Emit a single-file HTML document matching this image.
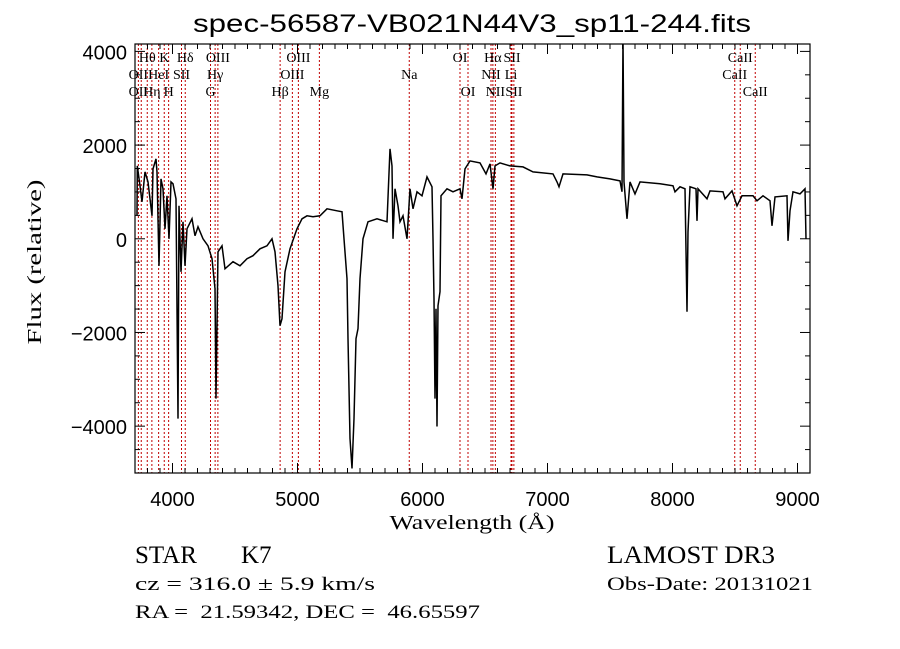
<!DOCTYPE html>
<html><head><meta charset="utf-8"><style>
html,body{margin:0;padding:0;background:#fff;}
svg{display:block;}
text{fill:#000;white-space:pre;}
</style></head><body>
<svg id="chart" width="900" height="649" viewBox="0 0 900 649" xmlns="http://www.w3.org/2000/svg">
<rect x="0" y="0" width="900" height="649" fill="#fff"/>
<defs><clipPath id="pc"><rect x="135" y="44" width="675" height="429"/></clipPath></defs>
<text x="472" y="32" text-anchor="middle" font-family="Liberation Sans, sans-serif" font-size="25" textLength="558" lengthAdjust="spacingAndGlyphs">spec-56587-VB021N44V3_sp11-244.fits</text>
<g id="lines" clip-path="url(#pc)"></g>
<g id="labels"></g>
<g id="spec" clip-path="url(#pc)"></g>
<rect x="135" y="44" width="675" height="429" fill="none" stroke="#000" stroke-width="1.2"/>
<g id="ticks"></g>
<text x="472" y="529" text-anchor="middle" font-family="Liberation Serif, serif" font-size="20" textLength="165" lengthAdjust="spacingAndGlyphs">Wavelength (Å)</text>
<text transform="translate(41,262) rotate(-90)" text-anchor="middle" font-family="Liberation Serif, serif" font-size="20" textLength="165" lengthAdjust="spacingAndGlyphs">Flux (relative)</text>
<text x="135" y="563" font-family="Liberation Serif, serif" font-size="25">STAR<tspan x="241">K7</tspan></text>
<text x="607" y="563" font-family="Liberation Serif, serif" font-size="25" textLength="168" lengthAdjust="spacingAndGlyphs">LAMOST DR3</text>
<text x="135" y="590" font-family="Liberation Serif, serif" font-size="19" textLength="240" lengthAdjust="spacingAndGlyphs">cz = 316.0 ± 5.9 km/s</text>
<text x="607" y="590" font-family="Liberation Serif, serif" font-size="19" textLength="206" lengthAdjust="spacingAndGlyphs">Obs-Date: 20131021</text>
<text x="135" y="618" font-family="Liberation Serif, serif" font-size="19" textLength="345" lengthAdjust="spacingAndGlyphs">RA =  21.59342, DEC =  46.65597</text>
</svg>
<script>
const wave = [3716,3718,3740,3756,3780,3804,3836,3844,3868,3876,3892,3908,3924,3940,3956,3972,3988,4004,4028,4044,4052,4068,4084,4100,4116,4156,4180,4204,4244,4284,4316,4340,4348,4364,4396,4420,4484,4540,4596,4644,4700,4756,4796,4820,4844,4860,4876,4900,4940,4996,5036,5076,5124,5180,5236,5316,5356,5372,5396,5404,5420,5436,5452,5468,5484,5500,5524,5564,5636,5716,5740,5756,5764,5780,5804,5820,5844,5876,5900,5924,5956,5996,6036,6076,6084,6092,6100,6108,6116,6124,6140,6148,6196,6244,6300,6316,6340,6380,6460,6508,6540,6564,6580,6620,6700,6804,6884,7044,7076,7092,7124,7316,7396,7500,7580,7596,7604,7612,7636,7660,7700,7740,7900,8004,8020,8060,8100,8116,8124,8140,8188,8196,8204,8276,8300,8404,8420,8476,8516,8556,8644,8676,8724,8780,8796,8820,8916,8924,8940,8964,9020,9060,9068];
const flux = [490,1556,1130,789,1428,1215,490,1492,1706,1428,-576,1279,1066,213,917,0,1215,1173,853,-3838,704,-704,362,-576,213,426,64,256,0,-149,-426,-1066,-3411,-277,-149,-640,-490,-576,-426,-362,-213,-149,0,-277,-1002,-1855,-1706,-704,-213,213,426,490,469,490,640,597,576,0,-853,-2132,-4264,-4904,-3838,-2132,-1919,-853,0,362,426,362,1919,1556,0,1066,704,362,490,0,1066,640,1002,917,1322,1109,0,-1279,-3411,-1492,-4008,-1428,-1130,917,1066,1002,1066,853,1492,1663,1620,1386,1599,1066,1556,1620,1556,1535,1428,1386,1215,1109,1386,1364,1322,1279,1236,1002,4300,1215,426,1215,959,1215,1173,1130,1002,1109,1066,-1556,149,1109,1066,384,1066,853,1023,1002,853,1023,704,917,917,810,917,810,277,895,917,-43,597,1002,959,1066,0];
const xTicks = [4000,5000,6000,7000,8000,9000];
const yTicks = [-4000,-2000,0,2000,4000];
const lineWaves = [3727,3750,3798,3835,3889,3934,3969,4072,4102,4304,4341,4363,4861,4959,5007,5175,5894,6300,6364,6548,6563,6583,6708,6716,6731,8498,8542,8662];
const labelText = ["Hθ","K","Hδ","OIII","OIII","OII","HeI","SII","Hγ","OIII","OII","Hη","H","G","Hβ","Mg","OI","Hα","SII","CaII","Na","NII","Li","CaII","OI","NII","SII","CaII"];
const labelWave = [3798,3934,4102,4363,5007,3727,3889,4072,4341,4959,3727,3835,3969,4304,4861,5175,6300,6563,6716,8542,5894,6548,6708,8498,6364,6583,6731,8662];
const labelRow = [0,0,0,0,0,1,1,1,1,1,2,2,2,2,2,2,0,0,0,0,1,1,1,1,2,2,2,2];

const NS="http://www.w3.org/2000/svg";
const X0=135,X1=810,Y0=44,Y1=473,W0=3700,W1=9100,F0=-5000,F1=4158;
function xs(w){return X0+(w-W0)*(X1-X0)/(W1-W0);}
function ys(f){return Y1-(f-F0)*(Y1-Y0)/(F1-F0);}
function mk(tag,attrs,parent){const e=document.createElementNS(NS,tag);for(const k in attrs)e.setAttribute(k,attrs[k]);parent.appendChild(e);return e;}

const gl=document.getElementById('lines');
lineWaves.forEach(w=>{
  const l=mk('line',{x1:xs(w),x2:xs(w),y1:Y0,y2:Y1,stroke:'#c00000','stroke-width':1,'stroke-dasharray':'2,2'},gl);
  
  
});
const glab=document.getElementById('labels');
labelText.forEach((t,i)=>{
  const e=mk('text',{x:xs(labelWave[i]),y:62+labelRow[i]*17,'text-anchor':'middle','font-family':'Liberation Serif, serif','font-size':14},glab);
  e.textContent=t;
  
  
});
const gs=document.getElementById('spec');
const pts=wave.map((w,i)=>xs(w).toFixed(1)+','+ys(flux[i]).toFixed(1)).join(' ');
const pl=mk('polyline',{points:pts,fill:'none',stroke:'#000','stroke-width':1.5,'stroke-linejoin':'miter'},gs);



const gt=document.getElementById('ticks');
for(let w=3700;w<=9100;w+=100){
  const major=(w%1000===0);const L=major?10:5;const x=xs(w);
  mk('line',{x1:x,x2:x,y1:Y1,y2:Y1-L,stroke:'#000','stroke-width':1},gt);
  mk('line',{x1:x,x2:x,y1:Y0,y2:Y0+L,stroke:'#000','stroke-width':1},gt);
}
for(let f=-5000;f<=4000;f+=500){
  const major=(f%2000===0);const L=major?10:5;const y=ys(f);
  mk('line',{x1:X0,x2:X0+L,y1:y,y2:y,stroke:'#000','stroke-width':1},gt);
  mk('line',{x1:X1,x2:X1-L,y1:y,y2:y,stroke:'#000','stroke-width':1},gt);
}
xTicks.forEach(w=>{
  const e=mk('text',{x:xs(w),y:506,'text-anchor':'middle','font-family':'Liberation Sans, sans-serif','font-size':20},gt);
  e.textContent=w;
  
  
});
yTicks.forEach(f=>{
  const e=mk('text',{x:127,y:ys(f)+8,'text-anchor':'end','font-family':'Liberation Sans, sans-serif','font-size':20},gt);
  e.textContent=(f<0?'\u2212'+(-f):f);
  
  
});
</script>
</body></html>
